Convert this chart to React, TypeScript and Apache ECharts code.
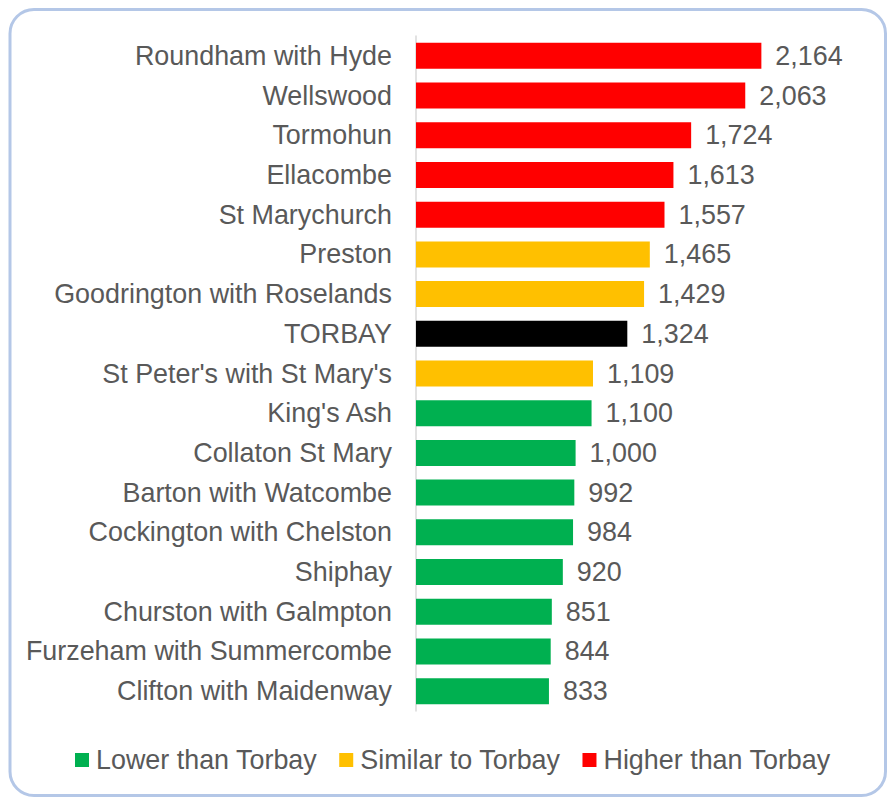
import React, { useEffect, useRef } from "react";
import * as echarts from "echarts";

const categories: string[] = [
  "Roundham with Hyde",
  "Wellswood",
  "Tormohun",
  "Ellacombe",
  "St Marychurch",
  "Preston",
  "Goodrington with Roselands",
  "TORBAY",
  "St Peter's with St Mary's",
  "King's Ash",
  "Collaton St Mary",
  "Barton with Watcombe",
  "Cockington with Chelston",
  "Shiphay",
  "Churston with Galmpton",
  "Furzeham with Summercombe",
  "Clifton with Maidenway",
];

const values: number[] = [
  2164, 2063, 1724, 1613, 1557, 1465, 1429, 1324, 1109, 1100, 1000, 992, 984, 920, 851, 844, 833,
];

// group of each category: L = lower, S = similar, H = higher, T = Torbay
const groups: string[] = ["H", "H", "H", "H", "H", "S", "S", "T", "S", "L", "L", "L", "L", "L", "L", "L", "L"];

const seriesDefs = [
  { key: "L", name: "Lower than Torbay", color: "#00B050" },
  { key: "S", name: "Similar to Torbay", color: "#FFC000" },
  { key: "H", name: "Higher than Torbay", color: "#FF0000" },
  { key: "T", name: "TORBAY", color: "#000000" },
];

const legendNames: string[] = ["Lower than Torbay", "Similar to Torbay", "Higher than Torbay"];

const FONT = '"Liberation Sans", Arial, sans-serif';
const TEXT = "#595959";
const FS = 26.9;

export default function App() {
  const ref = useRef<HTMLDivElement>(null);
  useEffect(() => {
    if (!ref.current) return;
    const chart = echarts.init(ref.current, null, { renderer: "svg" });
    chart.setOption({
      animation: false,
      backgroundColor: "#ffffff",
      textStyle: { fontFamily: FONT },
      graphic: [
        {
          type: "rect",
          shape: { x: 10, y: 9.5, width: 875.5, height: 786, r: 24 },
          style: { fill: "none", stroke: "#B4C7E7", lineWidth: 3 },
          silent: true,
          z: -10,
        },
      ],
      legend: {
        data: legendNames,
        left: 70,
        top: 741,
        itemWidth: 14,
        itemHeight: 14,
        itemGap: 22,
        icon: "rect",
        textStyle: {
          fontSize: FS,
          color: TEXT,
          fontFamily: FONT,
          lineHeight: 28,
          padding: [0, 0, 0, 2],
        },
      },
      grid: { left: 416, top: 36, width: 399, height: 675, containLabel: false },
      xAxis: {
        type: "value",
        min: 0,
        max: 2500,
        show: false,
        splitLine: { show: false },
      },
      yAxis: {
        type: "category",
        data: categories,
        inverse: true,
        axisLine: { show: true, lineStyle: { color: "#D9D9D9", width: 1.5 } },
        axisTick: { show: false },
        axisLabel: { fontSize: FS, color: TEXT, fontFamily: FONT, margin: 24 },
      },
      series: seriesDefs.map((s) => ({
        type: "bar",
        name: s.name,
        stack: "all",
        barWidth: 26,
        itemStyle: { color: s.color },
        label: {
          show: true,
          position: "right",
          distance: 14,
          fontSize: FS,
          color: TEXT,
          fontFamily: FONT,
          formatter: (p: any) => Number(p.value).toLocaleString("en-US"),
        },
        data: values.map((v, i) => (groups[i] === s.key ? v : "-")),
      })),
    });
    return () => chart.dispose();
  }, []);
  return (
    <div
      ref={ref}
      style={{ position: "absolute", left: 0, top: 0, width: 892, height: 797 }}
    />
  );
}
